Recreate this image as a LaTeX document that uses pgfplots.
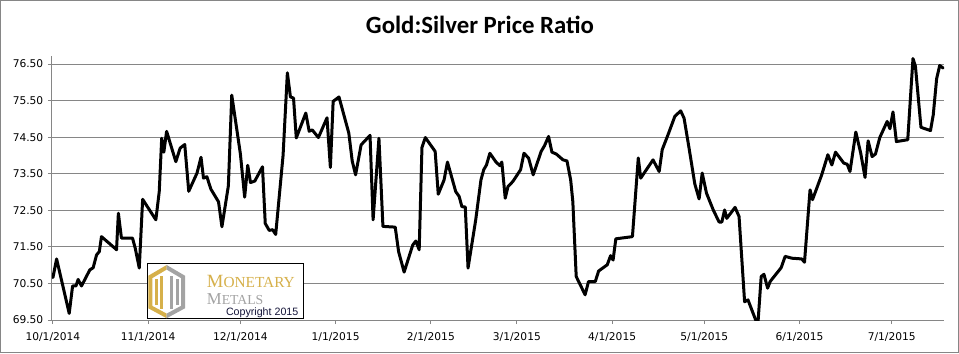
\documentclass[border=0pt]{standalone}
\usepackage{fontspec}
\setmainfont{DejaVu Sans}
\newfontfamily\titlefont{Carlito}
\newfontfamily\seriflogo{Liberation Serif}
\newfontfamily\arialfont{Liberation Sans}
\usepackage{pgfplots}
\pgfplotsset{compat=1.18}
\definecolor{gridgray}{HTML}{868686}
\definecolor{logogold}{HTML}{D6B04A}
\definecolor{logogray}{HTML}{A3A3A3}
\definecolor{copyblue}{HTML}{141438}
\begin{document}
\begin{tikzpicture}
\useasboundingbox (-39pt,-24.75pt) rectangle (680.25pt,240pt);
\draw[gridgray, line width=0.75pt] (-38.625pt,-24.375pt) rectangle (679.875pt,239.625pt);
\begin{axis}[
  at={(0,0)}, anchor=south west,
  width=669pt, height=198pt, scale only axis,
  xmin=-0.3, xmax=290, ymin=69.5, ymax=76.72,
  axis x line*=bottom, axis y line*=left,
  axis line style={gridgray, line width=0.75pt},
  ytick={69.5,70.5,71.5,72.5,73.5,74.5,75.5,76.5},
  yticklabels={69.50,70.50,71.50,72.50,73.50,74.50,75.50,76.50},
  ymajorgrids, grid style={gridgray, line width=0.75pt},
  xtick={0,31,61,92,123,151,182,212,243,273},
  xticklabels={10/1/2014,11/1/2014,12/1/2014,1/1/2015,2/1/2015,3/1/2015,4/1/2015,5/1/2015,6/1/2015,7/1/2015},
  tick align=outside, major tick length=3pt,
  tick style={gridgray, line width=0.75pt},
  ticklabel style={font=\fontsize{8}{9.6}\selectfont, text=black},
  xticklabel style={yshift=-3pt},
]
\addplot[black, line width=2.25pt, line join=round, line cap=round, no marks] table {
x y
0.0 70.66
1.2 71.17
5.3 69.68
6.4 70.43
7.5 70.43
8.2 70.61
9.3 70.43
12.0 70.87
13.1 70.93
14.2 71.28
15.1 71.37
15.8 71.78
20.2 71.46
20.7 71.42
21.3 72.42
22.3 71.74
25.9 71.74
26.8 71.46
28.1 70.92
29.2 72.80
33.5 72.24
34.6 73.01
35.4 74.47
36.1 74.09
37.0 74.66
40.0 73.83
41.4 74.20
42.9 74.30
44.2 73.02
46.9 73.52
48.2 73.95
49.0 73.38
50.1 73.42
51.4 73.08
53.9 72.73
55.0 72.05
57.1 73.17
58.2 75.65
61.0 74.05
62.4 72.86
63.4 73.73
64.3 73.26
65.7 73.30
68.2 73.69
69.1 72.14
70.4 71.95
71.5 71.97
72.5 71.84
74.9 74.00
76.3 76.26
77.3 75.60
78.3 75.57
79.2 74.48
82.3 75.16
83.4 74.66
84.4 74.70
86.4 74.49
89.2 75.03
90.3 73.67
91.2 75.48
93.1 75.60
96.3 74.61
97.4 73.85
98.5 73.47
100.3 74.29
103.2 74.55
104.2 72.24
106.1 74.47
107.4 72.06
111.4 72.04
112.5 71.37
114.3 70.81
117.1 71.55
118.1 71.66
119.2 71.42
120.1 74.22
121.2 74.49
124.4 74.11
125.4 72.94
127.3 73.33
128.4 73.82
131.1 73.01
132.2 72.88
133.1 72.60
134.2 72.59
135.1 70.92
137.6 72.24
139.3 73.33
140.2 73.61
141.1 73.74
142.2 74.06
144.2 73.82
145.5 73.72
146.1 73.82
147.2 72.83
148.1 73.15
149.7 73.29
152.2 73.61
153.3 74.06
154.8 73.93
156.3 73.47
158.9 74.11
160.0 74.27
161.3 74.52
162.4 74.09
163.8 74.04
166.0 73.88
167.3 73.85
168.5 73.33
169.2 72.74
170.3 70.69
173.2 70.19
174.3 70.55
176.5 70.55
177.6 70.84
180.4 71.01
181.5 71.26
182.3 71.14
183.2 71.72
188.6 71.78
190.5 73.93
191.3 73.38
195.3 73.88
197.3 73.56
198.3 74.16
200.2 74.57
202.4 75.07
204.3 75.22
205.4 75.02
207.3 74.06
208.9 73.22
210.3 72.81
211.3 73.52
212.7 72.97
214.9 72.51
216.8 72.18
217.7 72.18
218.6 72.51
219.3 72.28
222.0 72.58
223.3 72.33
225.1 70.00
226.2 70.05
229.4 69.35
230.5 70.69
231.4 70.75
232.6 70.37
233.4 70.55
237.0 70.93
238.3 71.24
240.5 71.19
243.7 71.17
244.6 71.08
246.4 73.06
247.2 72.79
250.2 73.47
252.2 74.02
253.5 73.74
254.7 74.09
257.4 73.79
258.5 73.76
259.4 73.56
261.3 74.64
262.9 74.06
264.3 73.40
265.3 74.40
266.6 73.97
267.7 74.04
269.1 74.49
271.5 74.93
272.4 74.73
273.4 75.19
274.5 74.38
278.2 74.43
279.9 76.65
280.7 76.44
282.5 74.77
285.6 74.68
286.5 75.11
287.6 76.10
288.6 76.46
289.7 76.39
};
\end{axis}
% title
\node[anchor=base, inner sep=0] at (321pt,214.5pt) {\titlefont\bfseries\fontsize{18.6}{18.6}\selectfont Gold:Silver Price Ratio};
% logo
\fill[white] (71.25pt,0.75pt) rectangle (188.25pt,42pt);
\draw[black, line width=0.75pt] (71.25pt,0.75pt) rectangle (188.25pt,42pt);
\fill[logogold] (86pt,41.25pt) -- (72.2pt,33.2pt) -- (72.2pt,8.8pt) -- (86pt,1.3pt) -- (86pt,4.8pt) -- (75.2pt,10.6pt) -- (75.2pt,31.4pt) -- (86pt,37.8pt) -- cycle;
\fill[logogray] (86pt,41.25pt) -- (99.75pt,33.2pt) -- (99.75pt,8.8pt) -- (86pt,1.3pt) -- (86pt,4.8pt) -- (96.75pt,10.6pt) -- (96.75pt,31.4pt) -- (86pt,37.8pt) -- cycle;
\fill[logogold] (77pt,11.5pt) rectangle (79.3pt,31pt);
\fill[logogold] (81pt,8.5pt) rectangle (83.3pt,33pt);
\fill[logogray] (88.7pt,8.5pt) rectangle (91pt,33pt);
\fill[logogray] (92.7pt,11.5pt) rectangle (95pt,31pt);
\node[anchor=base west, inner sep=0, text=logogold] at (116pt,24pt) {\seriflogo\fontsize{14}{14}\selectfont M\fontsize{11.5}{11.5}\selectfont ONETARY};
\node[anchor=base west, inner sep=0, text=logogray] at (116pt,11.75pt) {\seriflogo\fontsize{12.5}{12.5}\selectfont M\fontsize{10.3}{10.3}\selectfont ETALS};
\node[anchor=base west, inner sep=0, text=copyblue] at (130.3pt,3.3pt) {\arialfont\fontsize{8}{8}\selectfont Copyright 2015};
\end{tikzpicture}
\end{document}
